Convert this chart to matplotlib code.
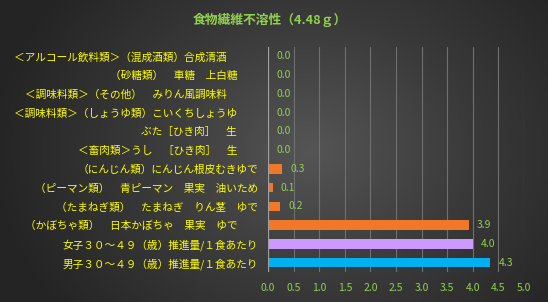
import numpy as np
import matplotlib
matplotlib.use("Agg")
import matplotlib.pyplot as plt
from matplotlib.colors import LinearSegmentedColormap

plt.rcParams['font.family'] = ['Noto Sans CJK JP', 'DejaVu Sans']

title = "食物繊維不溶性（4.48ｇ）"
categories = [
    "＜アルコール飲料類＞（混成酒類）合成清酒　　　",
    "（砂糖類）　車糖　上白糖　　",
    "＜調味料類＞（その他）　みりん風調味料　　　",
    "＜調味料類＞（しょうゆ類）こいくちしょうゆ　　",
    "ぶた［ひき肉］　生　　",
    "＜畜肉類＞うし　［ひき肉］　生　　",
    "（にんじん類）にんじん根皮むきゆで",
    "（ピーマン類）　青ピーマン　果実　油いため",
    "（たまねぎ類）　たまねぎ　りん茎　ゆで",
    "（かぼちゃ類）　日本かぼちゃ　果実　ゆで　　",
    "女子３０～４９（歳）推進量/１食あたり",
    "男子３０～４９（歳）推進量/１食あたり",
]
values = [0.0, 0.0, 0.0, 0.0, 0.0, 0.0, 0.27, 0.09, 0.23, 3.92, 4.0, 4.34]
colors = ["#f07828"] * 10 + ["#cc99ff", "#00b0f0"]
xticks = [0.0, 0.5, 1.0, 1.5, 2.0, 2.5, 3.0, 3.5, 4.0, 4.5, 5.0]

W, H = 548, 302
fig = plt.figure(figsize=(W / 100, H / 100), dpi=100)

# background gradient
bg = fig.add_axes([0, 0, 1, 1])
yy, xx = np.mgrid[0:H, 0:W]
r = np.sqrt(((xx - 310) / 320.0) ** 2 + ((yy - 150) / 260.0) ** 2)
cmap = LinearSegmentedColormap.from_list("bg", ["#555555", "#3a3a3a", "#242424"])
bg.imshow(np.clip(r, 0, 1), cmap=cmap, aspect='auto', extent=[0, W, H, 0], vmin=0, vmax=1)
bg.set_axis_off()

x0, x1 = 268, 524
y_top, y_bot = 47, 272
ax = fig.add_axes([x0 / W, 1 - y_bot / H, (x1 - x0) / W, (y_bot - y_top) / H])
ax.set_facecolor('none')
n = len(categories)
ypos = np.arange(n)[::-1]
ax.barh(ypos, values, height=0.5, color=colors, zorder=3)
ax.set_xlim(0, 5.0)
ax.set_ylim(-0.5, n - 0.5)
ax.set_xticks(xticks)
ax.set_xticklabels([f"{t:.1f}" for t in xticks], color="#92d050", fontsize=7.5)
ax.set_yticks(ypos)
ax.set_yticklabels(categories, color="#ffff00", fontsize=7.7)
ax.tick_params(axis='both', length=0)
ax.tick_params(axis='y', pad=7)
ax.tick_params(axis='x', pad=8)
for s in ax.spines.values():
    s.set_visible(False)
ax.axvline(0, color="#a0a0a0", lw=0.9, zorder=4)
for t in xticks[1:]:
    ax.axvline(t, color="#707070", lw=0.8, zorder=1)
for y, v in zip(ypos, values):
    ax.annotate(f"{v:.1f}", (v, y), xytext=(6, 0), textcoords='offset points',
                color="#92d050", fontsize=7.5, va='center', ha='left', zorder=5)

fig.text(270 / W, 1 - 20 / H, title, color="#92d050", fontsize=9.2, ha='center', va='center', fontweight='bold')

fig.savefig("out.png", dpi=100)
